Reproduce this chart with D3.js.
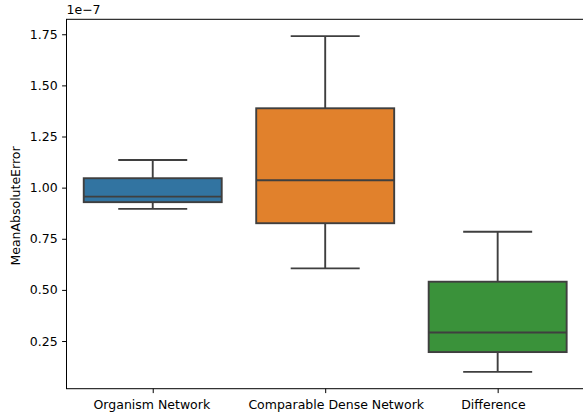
<!DOCTYPE html>
<html>
<head>
<meta charset="utf-8">
<script src="https://cdn.jsdelivr.net/npm/d3@7"></script>
<style>
  html, body { margin: 0; padding: 0; background: #fff; }
  svg { display: block; font-family: "DejaVu Sans", sans-serif; }
</style>
</head>
<body>
<svg id="chart" width="583" height="416"></svg>
<script>
// Box statistics per model (values in units of 1e-7)
const categories = ["Organism Network", "Comparable Dense Network", "Difference"];
const whiskerLow  = [0.896, 0.605, 0.099];
const q1          = [0.929, 0.826, 0.196];
const median      = [0.956, 1.036, 0.292];
const q3          = [1.046, 1.388, 0.540];
const whiskerHigh = [1.135, 1.741, 0.784];
const colors      = ["#3274a1", "#e1812c", "#3a923a"];
const yTicks      = [0.25, 0.50, 0.75, 1.00, 1.25, 1.50, 1.75];
const offsetLabel = "1e\u22127";
const yLabel      = "MeanAbsoluteError";

(function () {
  const svg = d3.select("#chart");
  const plotLeft = 66.5, plotRight = 583.9, plotTop = 19.3, plotBottom = 388.7;
  const edge = "#3f3f3f";
  // horizontal nudges of the category labels
  const labelShift = [-1.4, 10.5, -4.7];

  // Data limits padded by 5% like matplotlib autoscaling
  const lo = d3.min(whiskerLow), hi = d3.max(whiskerHigh);
  const pad = (hi - lo) * 0.05;
  const y = d3.scaleLinear().domain([lo - pad, hi + pad]).range([plotBottom, plotTop]);
  const x = d3.scaleLinear().domain([-0.5, categories.length - 0.5]).range([plotLeft, plotRight]);
  const step = x(1) - x(0);
  const boxW = step * 0.8;
  const capW = boxW * 0.5;

  // Axes
  const yAxis = d3.axisLeft(y).tickValues(yTicks).tickFormat(d3.format(".2f"))
    .tickSizeInner(4.4).tickSizeOuter(0).tickPadding(4.4);
  const gy = svg.append("g").attr("transform", `translate(${plotLeft},0)`).call(yAxis);
  const xAxis = d3.axisBottom(x).tickValues(d3.range(categories.length))
    .tickFormat(i => categories[i]).tickSizeInner(4.4).tickSizeOuter(0).tickPadding(7.5);
  const gx = svg.append("g").attr("transform", `translate(0,${plotBottom})`).call(xAxis);
  [gx, gy].forEach(g => {
    g.select(".domain").remove();
    g.selectAll(".tick line").attr("stroke", "#000").attr("stroke-width", 1);
    g.selectAll(".tick text").attr("fill", "#000").style("font-size", "12.5px")
      .style("font-family", "'DejaVu Sans', sans-serif");
  });
  gx.selectAll(".tick text").attr("dx", (d, i) => labelShift[i]);

  // Boxes, whiskers, caps and medians
  const g = svg.append("g");
  categories.forEach((c, i) => {
    const cx = x(i);
    g.append("line").attr("x1", cx).attr("x2", cx).attr("y1", y(q3[i])).attr("y2", y(whiskerHigh[i]))
      .attr("stroke", edge).attr("stroke-width", 1.9);
    g.append("line").attr("x1", cx).attr("x2", cx).attr("y1", y(q1[i])).attr("y2", y(whiskerLow[i]))
      .attr("stroke", edge).attr("stroke-width", 1.9);
    [whiskerHigh[i], whiskerLow[i]].forEach(v => {
      g.append("line").attr("x1", cx - capW / 2).attr("x2", cx + capW / 2)
        .attr("y1", y(v)).attr("y2", y(v)).attr("stroke", edge).attr("stroke-width", 1.9);
    });
    g.append("rect").attr("x", cx - boxW / 2).attr("width", boxW)
      .attr("y", y(q3[i])).attr("height", y(q1[i]) - y(q3[i]))
      .attr("fill", colors[i]).attr("stroke", edge).attr("stroke-width", 1.9);
    g.append("line").attr("x1", cx - boxW / 2).attr("x2", cx + boxW / 2)
      .attr("y1", y(median[i])).attr("y2", y(median[i])).attr("stroke", edge).attr("stroke-width", 1.9);
  });

  // Frame
  svg.append("rect").attr("x", plotLeft).attr("y", plotTop)
    .attr("width", plotRight - plotLeft).attr("height", plotBottom - plotTop)
    .attr("fill", "none").attr("stroke", "#000").attr("stroke-width", 1);

  // Offset text and y label
  svg.append("text").attr("x", plotLeft).attr("y", plotTop - 5).attr("font-size", "12.5px")
    .attr("fill", "#000").text(offsetLabel);
  svg.append("text").attr("transform", `translate(20,${(plotTop + plotBottom) / 2 + 2}) rotate(-90)`)
    .attr("text-anchor", "middle").attr("font-size", "12.5px").attr("fill", "#000").text(yLabel);
})();
</script>
</body>
</html>
